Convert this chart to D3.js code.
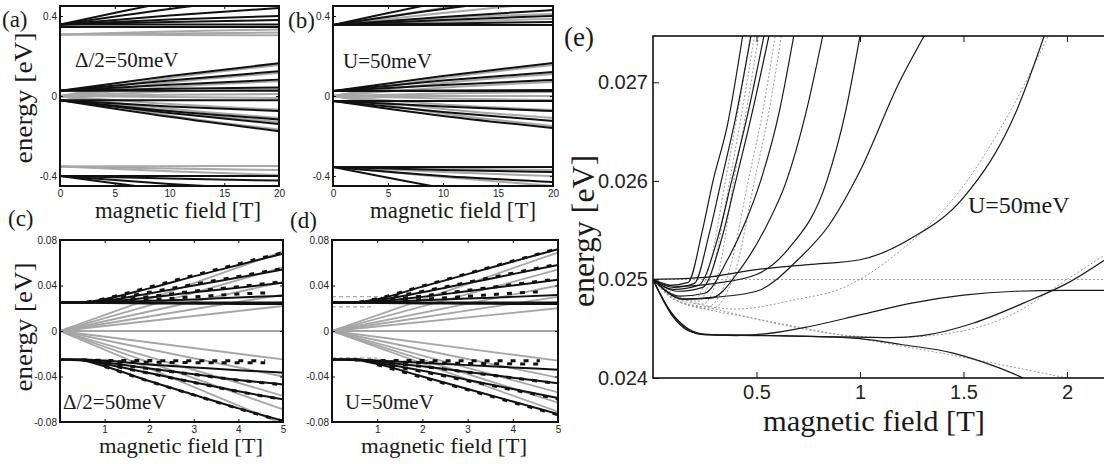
<!DOCTYPE html>
<html>
<head>
<meta charset="utf-8">
<script src="https://cdn.jsdelivr.net/npm/d3@7"></script>
<style>
  body { margin: 0; background: #fff; }
  .serif { font-family: "Liberation Serif", "Times New Roman", serif; fill: #1a1a1a; }
</style>
</head>
<body>
<svg id="fig" width="1104" height="464"></svg>
<script>
// ---- data ----

// panels (a),(b): level energies [eV] at B = 0, 10, 20 T
var abField = [0, 10, 20];
var aBlack = [
  [0.357, 0.47, 0.56], [0.357, 0.435, 0.50], [0.357, 0.402, 0.44], [0.357, 0.382, 0.40],
  [0.357, 0.37, 0.38], [0.357, 0.357, 0.357], [0.345, 0.345, 0.345],
  [0.026, 0.10, 0.164], [0.026, 0.078, 0.124], [0.026, 0.056, 0.082], [0.026, 0.036, 0.043],
  [0.026, 0.026, 0.026],
  [-0.021, -0.052, -0.075], [-0.021, -0.075, -0.117], [-0.021, -0.085, -0.14],
  [-0.021, -0.104, -0.176], [-0.021, -0.021, -0.021],
  [-0.40, -0.40, -0.40], [-0.40, -0.413, -0.423], [-0.40, -0.44, -0.47], [-0.40, -0.47, -0.52]
];
var aGray = [
  [0.307, 0.322, 0.333], [0.307, 0.313, 0.317], [0.307, 0.305, 0.304],
  [0, 0.09, 0.155], [0, 0.068, 0.115], [0, 0.045, 0.074], [0, 0.022, 0.034], [0, 0.006, 0.01],
  [0, -0.005, -0.01], [0, -0.04, -0.068], [0, -0.064, -0.11], [0, -0.076, -0.13], [0, -0.097, -0.168],
  [-0.352, -0.351, -0.35], [-0.352, -0.362, -0.37], [-0.352, -0.376, -0.395]
];
var bBlack = [
  [0.355, 0.47, 0.56], [0.355, 0.435, 0.50], [0.355, 0.395, 0.43], [0.355, 0.38, 0.40],
  [0.355, 0.363, 0.37], [0.355, 0.355, 0.355],
  [0.025, 0.10, 0.165], [0.025, 0.077, 0.12], [0.025, 0.055, 0.08], [0.025, 0.028, 0.03],
  [0.025, 0.025, 0.025],
  [-0.025, -0.053, -0.075], [-0.025, -0.08, -0.125], [-0.025, -0.10, -0.16], [-0.025, -0.025, -0.025],
  [-0.355, -0.355, -0.355], [-0.355, -0.37, -0.38], [-0.355, -0.40, -0.43], [-0.355, -0.46, -0.55]
];
var bGray = [
  [0.355, 0.44, 0.53], [0.355, 0.415, 0.47], [0.355, 0.39, 0.41], [0.355, 0.372, 0.385],
  [0, 0.09, 0.155], [0, 0.065, 0.11], [0, 0.042, 0.07], [0, 0.012, 0.02], [0, 0, 0],
  [0, -0.012, -0.02], [0, -0.042, -0.07], [0, -0.065, -0.11], [0, -0.088, -0.15],
  [-0.355, -0.363, -0.37], [-0.355, -0.38, -0.40], [-0.355, -0.405, -0.45]
];

// panels (c),(d): energies at B = 0, .5, 1, 2, 3, 4, 5 T
var cdField = [0, 0.5, 1, 2, 3, 4, 5];
var cBlack = [
  [0.025, 0.0252, 0.028, 0.0375, 0.048, 0.058, 0.068],
  [0.025, 0.025, 0.0265, 0.033, 0.040, 0.047, 0.054],
  [0.025, 0.025, 0.0258, 0.0295, 0.034, 0.038, 0.0425],
  [0.025, 0.025, 0.0253, 0.0265, 0.0278, 0.0295, 0.031],
  [0.025, 0.025, 0.025, 0.025, 0.025, 0.025, 0.025],
  [0.025, 0.0249, 0.0246, 0.0242, 0.024, 0.0238, 0.0237],
  [-0.025, -0.026, -0.031, -0.044, -0.056, -0.068, -0.079],
  [-0.025, -0.0255, -0.029, -0.037, -0.045, -0.053, -0.060],
  [-0.025, -0.025, -0.0275, -0.033, -0.038, -0.043, -0.047],
  [-0.025, -0.025, -0.026, -0.0295, -0.032, -0.0345, -0.0366]
];
var dBlack = [
  [0.025, 0.0252, 0.028, 0.039, 0.050, 0.061, 0.072],
  [0.025, 0.025, 0.027, 0.034, 0.042, 0.050, 0.058],
  [0.025, 0.025, 0.026, 0.030, 0.035, 0.040, 0.045],
  [0.025, 0.025, 0.0253, 0.027, 0.0285, 0.030, 0.0317],
  [0.025, 0.025, 0.025, 0.025, 0.025, 0.025, 0.025],
  [0.025, 0.0249, 0.0246, 0.0242, 0.024, 0.0238, 0.0237],
  [-0.025, -0.0255, -0.029, -0.040, -0.051, -0.062, -0.073],
  [-0.025, -0.025, -0.028, -0.035, -0.043, -0.051, -0.059],
  [-0.025, -0.025, -0.027, -0.031, -0.036, -0.041, -0.046],
  [-0.025, -0.025, -0.026, -0.028, -0.030, -0.032, -0.034]
];
// gray levels are straight from the origin: energy at B = 0 and B = 5
var grayField = [0, 5];
var cGray = [[0, 0.070], [0, 0.056], [0, 0.043], [0, 0.032], [0, 0.022], [0, 0],
  [0, -0.025], [0, -0.040], [0, -0.057], [0, -0.069], [0, -0.082]];
var dGray = [[0, 0.069], [0, 0.054], [0, 0.040], [0, 0.030], [0, 0.020], [0, 0],
  [0, -0.026], [0, -0.041], [0, -0.054], [0, -0.063], [0, -0.071]];
// dashed levels, [B, E] pairs
var cDash = [
  [[0.6, 0.0254], [1, 0.0285], [2, 0.0385], [3, 0.049], [4, 0.059], [5, 0.069]],
  [[0.8, 0.0257], [1, 0.027], [2, 0.034], [3, 0.041], [4, 0.048], [5, 0.055]],
  [[1, 0.0262], [2, 0.0302], [3, 0.035], [4, 0.039], [5, 0.0435]],
  [[1, 0.0255], [2, 0.0275], [3, 0.030], [4, 0.0325], [4.6, 0.0335]],
  [[0.5, -0.0255], [1, -0.0258], [2, -0.026], [3, -0.0262], [4.6, -0.0262]],
  [[1, -0.0268], [2, -0.0275], [3, -0.0278], [4.6, -0.028]],
  [[1, -0.0292], [2, -0.0372], [3, -0.0452], [4, -0.0532], [5, -0.0602]],
  [[1, -0.0277], [2, -0.0332], [3, -0.0382], [4, -0.0432], [5, -0.0472]],
  [[1, -0.0312], [2, -0.0442], [3, -0.0562], [4, -0.0682], [5, -0.0792]]
];
var dDash = [
  [[0.6, 0.0254], [1, 0.0285], [2, 0.0395], [3, 0.0505], [4, 0.0615], [5, 0.0725]],
  [[0.8, 0.0257], [1, 0.0275], [2, 0.0348], [3, 0.0428], [4, 0.0508], [5, 0.0588]],
  [[1, 0.0265], [2, 0.0308], [3, 0.0358], [4, 0.0408], [5, 0.0458]],
  [[1, 0.0255], [2, 0.0278], [3, 0.0305], [4, 0.0332], [4.6, 0.0345]],
  [[0.5, -0.0255], [1, -0.0258], [2, -0.026], [3, -0.0262], [4.6, -0.0262]],
  [[1, -0.0268], [2, -0.0278], [3, -0.0285], [4.6, -0.029]],
  [[1, -0.0287], [2, -0.0357], [3, -0.0437], [4, -0.0517], [5, -0.0597]],
  [[1, -0.0297], [2, -0.0407], [3, -0.0517], [4, -0.0627], [5, -0.0737]],
  [[1, -0.0272], [2, -0.0312], [3, -0.0362], [4, -0.0412], [5, -0.0462]]
];
var dGrayDash = [
  [[0, 0.0302], [1.1, 0.0302]],
  [[0, 0.0212], [0.9, 0.0212]],
  [[0, -0.0237], [1.0, -0.0237]]
];

// panel (e): [B, E] pairs
var eBlack = [
  [[0, .025], [.08, .02494], [.17, .02497], [.236, .02547], [.29, .026], [.36, .02657], [.433, .02747]],
  [[0, .025], [.1, .02492], [.2, .02496], [.27, .02545], [.33, .026], [.40, .02665], [.473, .02747]],
  [[0, .025], [.1, .0249], [.22, .02494], [.31, .0254], [.38, .026], [.46, .0267], [.536, .02747]],
  [[0, .025], [.12, .02488], [.24, .02492], [.33, .0254], [.40, .026], [.48, .0267], [.56, .02747]],
  [[0, .025], [.13, .02483], [.25, .02486], [.36, .0252], [.45, .0256], [.52, .026], [.61, .0267], [.68, .02747]],
  [[0, .025], [.15, .0248], [.28, .02481], [.42, .0251], [.55, .02555], [.645, .026], [.74, .0267], [.82, .02747]],
  [[0, .025], [.12, .02493], [.3, .02496], [.5, .02505], [.65, .0253], [.84, .026], [.93, .0267], [1.0, .02747]],
  [[0, .025], [.15, .0248], [.3, .02482], [.5, .02488], [.7, .0252], [.85, .02555], [1.0, .0261], [1.19, .027], [1.31, .02747]],
  [[0, .025], [.25, .02502], [.5, .0251], [.75, .02515], [1.0, .0252], [1.25, .02542], [1.5, .02583], [1.75, .02668], [1.89, .02747]],
  [[0, .025], [.09, .02466], [.17, .0245], [.25, .024445], [.4, .02443], [.55, .02445], [.75, .02452], [1.0, .02464], [1.25, .02476], [1.5, .02484], [1.75, .02488], [2.0, .02489], [2.184, .02489]],
  [[0, .025], [.09, .02465], [.17, .02449], [.25, .02444], [.5, .024435], [.8, .02442], [1.0, .024415], [1.15, .02441], [1.3, .02443], [1.55, .024558], [1.79, .02476], [2.0, .02496], [2.184, .0252]],
  [[0, .025], [.09, .02464], [.17, .02448], [.25, .02444], [.5, .02443], [.8, .02442], [1.0, .0244], [1.2, .02434], [1.45, .024253], [1.65, .02412], [1.79, .024]]
];
var eGray = [
  [[0, .025], [.1, .02484], [.2, .0248], [.28, .0252], [.35, .026], [.41, .0267], [.47, .02747]],
  [[0, .025], [.1, .02482], [.22, .02478], [.3, .0252], [.37, .026], [.43, .0267], [.49, .02747]],
  [[0, .025], [.12, .0248], [.24, .02475], [.32, .0251], [.39, .026], [.45, .0267], [.51, .02747]],
  [[0, .025], [.12, .02478], [.26, .02472], [.37, .0251], [.46, .026], [.53, .0267], [.59, .02747]],
  [[0, .025], [.14, .02476], [.28, .0247], [.4, .0251], [.49, .026], [.56, .0267], [.62, .02747]],
  [[0, .025], [.1, .0248], [.2, .02473], [.5, .0246], [1.0, .0244], [1.5, .02421], [2.0, .024]],
  [[0, .025], [.1, .0248], [.3, .0247], [.6, .02455], [.9, .02444], [1.15, .02441], [1.45, .02446], [1.75, .02466], [2.0, .025], [2.184, .02525]],
  [[0, .025], [.15, .0248], [.4, .0247], [.7, .0248], [.9, .0249], [1.2, .0253], [1.5, .02595], [1.75, .0268], [1.91, .02747]],
  [[0, .025], [2.184, .025]]
];

// ---- drawing ----
var svg = d3.select('#fig');

function makePanel(o) {
  var x = d3.scaleLinear().domain(o.xd).range([o.x0, o.x1]);
  var y = d3.scaleLinear().domain(o.yd).range([o.y1, o.y0]);
  svg.append('clipPath').attr('id', 'clip-' + o.name)
    .append('rect')
      .attr('x', o.x0).attr('y', o.y0)
      .attr('width', o.x1 - o.x0).attr('height', o.y1 - o.y0);
  var g = svg.append('g');
  var plot = g.append('g').attr('clip-path', 'url(#clip-' + o.name + ')');
  var line = d3.line()
    .x(function(d) { return x(d[0]); })
    .y(function(d) { return y(d[1]); })
    .curve(d3.curveMonotoneX);
  return { o: o, x: x, y: y, g: g, plot: plot, line: line };
}

// series given as values at a list of field points
function drawSeries(p, field, series, style) {
  var pts = series.map(function(vals) {
    return vals.map(function(v, i) { return [field[i], v]; });
  });
  drawPairs(p, pts, style);
}

function drawPairs(p, pts, style) {
  p.plot.selectAll(null).data(pts).enter().append('path')
    .attr('d', p.line)
    .attr('fill', 'none')
    .attr('stroke', style.color)
    .attr('stroke-width', style.width)
    .attr('stroke-dasharray', style.dash || null);
}

function drawAxes(p) {
  var o = p.o;
  var fmt = function(d) { return String(d); };
  var styleAxis = function(sel) {
    sel.select('.domain').remove();
    sel.attr('font-family', '"Liberation Sans", Arial, sans-serif')
       .attr('font-size', o.fs);
    sel.selectAll('.tick line').attr('stroke', '#111').attr('stroke-width', 1);
    sel.selectAll('.tick text').attr('fill', '#222');
  };
  p.g.append('g').attr('transform', 'translate(' + o.x0 + ',0)')
    .call(d3.axisLeft(p.y).tickValues(o.yt).tickSize(-o.tl).tickPadding(o.pad).tickFormat(fmt))
    .call(styleAxis);
  p.g.append('g').attr('transform', 'translate(0,' + o.y1 + ')')
    .call(d3.axisBottom(p.x).tickValues(o.xt).tickSize(-o.tl).tickPadding(o.padx).tickFormat(fmt))
    .call(styleAxis);
  p.g.append('g').attr('transform', 'translate(0,' + o.y0 + ')')
    .call(d3.axisTop(p.x).tickValues(o.xt).tickSize(-o.tl).tickFormat(''))
    .call(styleAxis);
  if (o.rightAxis) {
    p.g.append('g').attr('transform', 'translate(' + o.x1 + ',0)')
      .call(d3.axisRight(p.y).tickValues(o.yt).tickSize(-o.tl).tickFormat(''))
      .call(styleAxis);
  }
  p.g.append('rect')
    .attr('x', o.x0).attr('y', o.y0)
    .attr('width', (o.frameW || (o.x1 - o.x0))).attr('height', o.y1 - o.y0)
    .attr('fill', 'none').attr('stroke', '#111').attr('stroke-width', o.fw);
}

function label(txt, x, y, size, opts) {
  opts = opts || {};
  var t = svg.append('text').attr('class', 'serif')
    .attr('font-size', size)
    .attr('text-anchor', opts.anchor || 'start')
    .text(txt);
  if (opts.rotate) {
    t.attr('transform', 'translate(' + x + ',' + y + ') rotate(-90)');
  } else {
    t.attr('x', x).attr('y', y);
  }
  if (opts.len) t.attr('textLength', opts.len).attr('lengthAdjust', 'spacingAndGlyphs');
  return t;
}

var blackAB = { color: '#111', width: 2 };
var grayAB = { color: '#a8a8a8', width: 2 };
var blackCD = { color: '#111', width: 2 };
var grayCD = { color: '#a6a6a6', width: 1.8 };
var dashCD = { color: '#111', width: 3, dash: '5,8' };
var lightDash = { color: '#aaa', width: 1.2, dash: '4,3' };

// (a)
var pa = makePanel({ name: 'a', x0: 60, x1: 279, y0: 6, y1: 186, xd: [0, 20], yd: [-0.45, 0.45],
  xt: [0, 5, 10, 15, 20], yt: [-0.4, 0, 0.4], tl: 3, pad: 3, padx: 4, fs: 10, fw: 2, rightAxis: true });
drawSeries(pa, abField, aGray, grayAB);
drawSeries(pa, abField, aBlack, blackAB);
drawAxes(pa);

// (b)
var pb = makePanel({ name: 'b', x0: 333, x1: 553, y0: 6, y1: 186, xd: [0, 20], yd: [-0.45, 0.45],
  xt: [0, 5, 10, 15, 20], yt: [-0.4, 0, 0.4], tl: 3, pad: 3, padx: 4, fs: 10, fw: 2, rightAxis: true });
drawSeries(pb, abField, bGray, grayAB);
drawSeries(pb, abField, bBlack, blackAB);
drawAxes(pb);

// (c)
var pc = makePanel({ name: 'c', x0: 60, x1: 283, y0: 240, y1: 422, xd: [0, 5], yd: [-0.08, 0.08],
  xt: [1, 2, 3, 4, 5], yt: [-0.08, -0.04, 0, 0.04, 0.08], tl: 3, pad: 3, padx: 4, fs: 10, fw: 2, rightAxis: true });
drawSeries(pc, grayField, cGray, grayCD);
drawSeries(pc, cdField, cBlack, blackCD);
drawPairs(pc, cDash, dashCD);
drawAxes(pc);

// (d)
var pd = makePanel({ name: 'd', x0: 332, x1: 558, y0: 240, y1: 422, xd: [0, 5], yd: [-0.08, 0.08],
  xt: [1, 2, 3, 4, 5], yt: [-0.08, -0.04, 0, 0.04, 0.08], tl: 3, pad: 3, padx: 4, fs: 10, fw: 2, rightAxis: true });
drawPairs(pd, dGrayDash, lightDash);
drawSeries(pd, grayField, dGray, grayCD);
drawSeries(pd, cdField, dBlack, blackCD);
drawPairs(pd, dDash, dashCD);
drawAxes(pd);

// (e)
var pe = makePanel({ name: 'e', x0: 653, x1: 1104, y0: 36, y1: 378, xd: [0, 2.179], yd: [0.024, 0.02747],
  xt: [0.5, 1, 1.5, 2], yt: [0.024, 0.025, 0.026, 0.027], tl: 6, pad: 5, padx: 7, fs: 20, fw: 1.6,
  rightAxis: false, frameW: 470 });
drawPairs(pe, eGray, { color: '#9a9a9a', width: 1, dash: '2,2' });
drawPairs(pe, eBlack, { color: '#1a1a1a', width: 1.2 });
drawAxes(pe);

// texts
label('(a)', 2, 27, 23);
label('(b)', 288, 28, 23);
label('(c)', 8, 226, 23);
label('(d)', 290, 228, 23);
label('(e)', 564, 46, 27);

label('energy [eV]', 32, 98, 26, { rotate: true, anchor: 'middle', len: 131 });
label('energy [eV]', 32, 327, 26, { rotate: true, anchor: 'middle', len: 129 });
label('energy [eV]', 594, 231, 31, { rotate: true, anchor: 'middle', len: 152 });

label('magnetic field [T]', 178, 218, 22.5, { anchor: 'middle', len: 166 });
label('magnetic field [T]', 453, 218, 22.5, { anchor: 'middle', len: 166 });
label('magnetic field [T]', 181, 453, 21.5, { anchor: 'middle', len: 164 });
label('magnetic field [T]', 444, 453, 21.5, { anchor: 'middle', len: 166 });
label('magnetic field [T]', 874, 431, 29, { anchor: 'middle', len: 222 });

label('\u0394/2=50meV', 75, 67, 21);
label('U=50meV', 343, 68, 21);
label('\u0394/2=50meV', 63, 409, 21);
label('U=50meV', 345, 409, 21);
label('U=50meV', 968, 213, 24);
</script>
</body>
</html>
